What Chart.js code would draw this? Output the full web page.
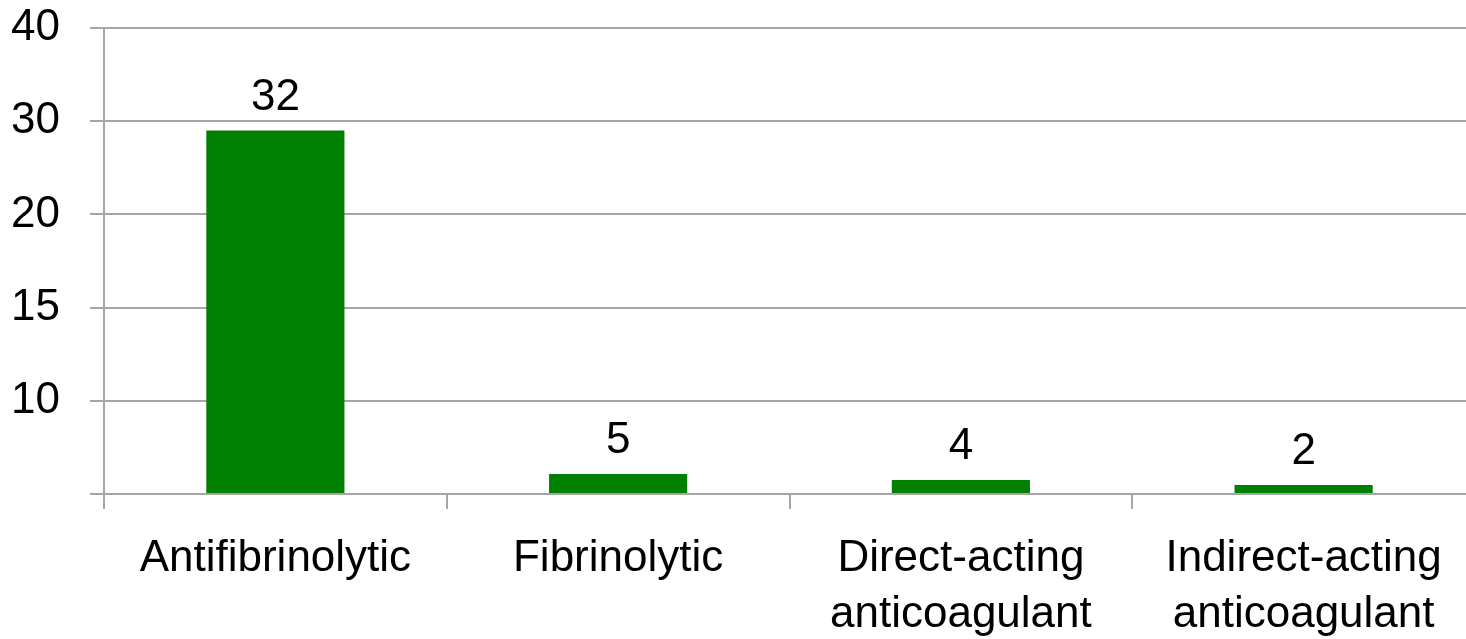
<!DOCTYPE html>
<html>
<head>
<meta charset="utf-8">
<script src="https://cdn.jsdelivr.net/npm/chart.js@4"></script>
<style>
  html, body { margin: 0; padding: 0; background: #fff; overflow: hidden; }
  .wrap { width: 1480px; height: 639px; }
</style>
</head>
<body>
<div class="wrap"><canvas id="chart" width="1480" height="639"></canvas></div>
<script>
// categories and numbers as printed on the chart
const categories = ['Antifibrinolytic', 'Fibrinolytic', ['Direct-acting', 'anticoagulant'], ['Indirect-acting', 'anticoagulant']];
const countLabels = [32, 5, 4, 2];
// the y axis is not linear: ticks are equally spaced but labelled like this
const yTickLabels = ['', '10', '15', '20', '30', '40'];
// bar heights as drawn, measured in tick steps of that axis
const barHeights = [3.9, 0.215, 0.15, 0.097];

const FONT = "'Liberation Sans', Arial, sans-serif";
const GRID = '#a6a6a6';

const valueLabels = {
  id: 'valueLabels',
  afterDatasetsDraw(chart) {
    const ctx = chart.ctx;
    const meta = chart.getDatasetMeta(0);
    ctx.save();
    ctx.font = '44px ' + FONT;
    ctx.fillStyle = '#000';
    ctx.textAlign = 'center';
    ctx.textBaseline = 'alphabetic';
    meta.data.forEach((bar, i) => {
      ctx.fillText(String(countLabels[i]), bar.x, bar.y - 21);
    });
    ctx.restore();
  }
};

new Chart(document.getElementById('chart').getContext('2d'), {
  type: 'bar',
  data: {
    labels: categories,
    datasets: [{
      data: barHeights,
      backgroundColor: '#008000',
      categoryPercentage: 1,
      barPercentage: 0.403
    }]
  },
  options: {
    responsive: false,
    animation: false,
    layout: { padding: { top: 28, right: 5, left: 0, bottom: 0 } },
    plugins: { legend: { display: false }, tooltip: { enabled: false } },
    scales: {
      x: {
        afterFit(scale) { scale.height = 145; scale.paddingLeft = 0; scale.paddingRight = 0; },
        grid: { offset: true, drawOnChartArea: false, color: GRID, lineWidth: 2, tickLength: 15 },
        border: { color: GRID, width: 2 },
        ticks: { color: '#000', font: { family: FONT, size: 44, lineHeight: 1.27 }, padding: 22, maxRotation: 0, autoSkip: false }
      },
      y: {
        min: 0,
        max: 5,
        afterFit(scale) { scale.width = 104; scale.paddingTop = 0; scale.paddingBottom = 0; },
        grid: { color: GRID, lineWidth: 2, tickLength: 14 },
        border: { color: GRID, width: 2 },
        ticks: {
          stepSize: 1,
          padding: 30,
          color: '#000',
          font: { family: FONT, size: 44 },
          callback: (v) => yTickLabels[v]
        }
      }
    }
  },
  plugins: [valueLabels]
});
</script>
</body>
</html>
